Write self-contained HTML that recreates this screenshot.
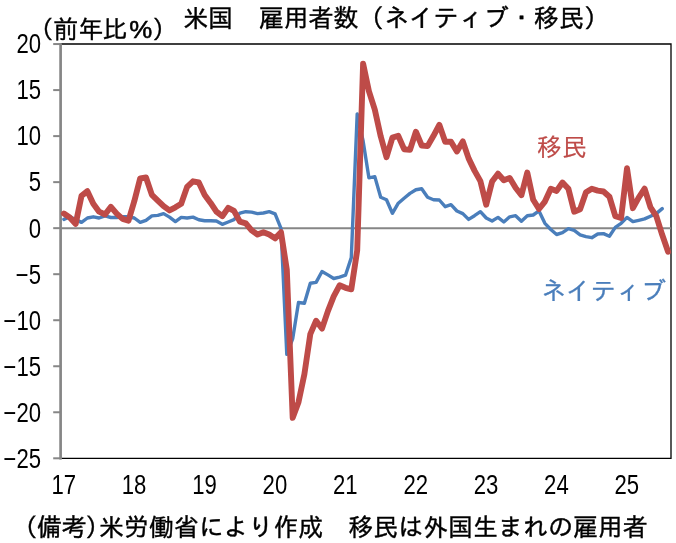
<!DOCTYPE html>
<html lang="ja">
<head>
<meta charset="utf-8">
<title>米国 雇用者数（ネイティブ・移民）</title>
<style>
html,body{margin:0;padding:0;background:#fff;}
body{width:676px;height:543px;overflow:hidden;font-family:"Liberation Sans", "IPAGothic", sans-serif;}
svg{display:block;}
text{font-family:"Liberation Sans", "IPAGothic", sans-serif;font-size:24.6px;fill:#000;stroke:#000;stroke-width:0.4px;}
.num{font-family:"Liberation Sans", sans-serif;font-size:27px;stroke:none;}
</style>
</head>
<body>
<svg width="676" height="543" viewBox="0 0 676 543">
<rect x="0" y="0" width="676" height="543" fill="#fff"/>
<!-- plot border -->
<g fill="none" stroke="#000" stroke-width="1.3">
<polyline points="61,44 671,44 671,458.3 61,458.3"/>
</g>
<g stroke="#868686" stroke-width="2.7" fill="none">
<line x1="60.6" x2="60.6" y1="43.3" y2="459.4"/>
</g>
<g stroke="#868686" stroke-width="2" fill="none">
<line x1="53.2" x2="61" y1="44.05" y2="44.05"/><line x1="53.2" x2="61" y1="90.08" y2="90.08"/><line x1="53.2" x2="61" y1="136.11" y2="136.11"/><line x1="53.2" x2="61" y1="182.13" y2="182.13"/><line x1="53.2" x2="61" y1="228.16" y2="228.16"/><line x1="53.2" x2="61" y1="274.19" y2="274.19"/><line x1="53.2" x2="61" y1="320.22" y2="320.22"/><line x1="53.2" x2="61" y1="366.25" y2="366.25"/><line x1="53.2" x2="61" y1="412.27" y2="412.27"/><line x1="53.2" x2="61" y1="458.30" y2="458.30"/>
</g>
<line x1="61" x2="671" y1="228.3" y2="228.3" stroke="#868686" stroke-width="1.9"/>
<polyline fill="none" stroke="#4A7EBB" stroke-width="3.4" stroke-linejoin="round" stroke-linecap="round" points="63.9,219.4 69.8,216.8 75.7,219.6 81.5,222.4 87.4,218.0 93.3,216.8 99.1,218.0 105.0,215.9 110.9,217.5 116.7,217.5 122.6,216.8 128.5,216.8 134.3,218.0 140.2,222.4 146.0,220.3 151.9,215.9 157.8,215.4 163.6,213.6 169.5,217.1 175.4,221.6 181.2,217.4 187.1,218.0 193.0,217.1 198.8,219.7 204.7,220.7 210.6,220.7 216.4,221.0 222.3,224.3 228.2,222.0 234.0,219.7 239.9,213.2 245.8,211.7 251.6,212.1 257.5,213.6 263.4,213.0 269.2,211.7 275.1,213.9 281.0,228.3 286.8,354.3 292.7,338.7 298.5,302.5 304.4,303.3 310.3,283.3 316.1,282.4 322.0,271.5 327.9,274.9 333.7,278.5 339.6,277.1 345.5,275.2 351.3,257.6 357.2,113.9 363.1,140.9 368.9,177.8 374.8,176.6 380.7,197.3 386.5,199.7 392.4,213.3 398.3,203.2 404.1,198.2 410.0,193.4 415.9,189.7 421.7,188.8 427.6,197.3 433.5,199.7 439.3,200.0 445.2,206.7 451.0,204.7 456.9,211.0 462.8,213.6 468.6,219.4 474.5,215.7 480.4,211.7 486.2,218.0 492.1,221.0 498.0,217.4 503.8,222.0 509.7,216.8 515.6,215.7 521.4,221.2 527.3,215.7 533.2,215.0 539.0,210.9 544.9,223.3 550.8,229.5 556.6,234.5 562.5,232.7 568.4,228.7 574.2,230.4 580.1,234.8 586.0,236.6 591.8,237.7 597.7,234.0 603.5,233.6 609.4,236.3 615.3,227.4 621.1,223.3 627.0,217.4 632.9,221.6 638.7,220.3 644.6,218.9 650.5,216.2 656.3,213.6 662.2,208.6"/>
<polyline fill="none" stroke="#BE4B48" stroke-width="5.9" stroke-linejoin="round" stroke-linecap="round" points="63.9,213.6 69.8,217.4 75.7,223.9 81.5,195.8 87.4,191.2 93.3,203.8 99.1,211.7 105.0,214.5 110.9,206.8 116.7,213.6 122.6,218.9 128.5,220.7 134.3,201.2 140.2,178.3 146.0,177.5 151.9,194.9 157.8,200.7 163.6,206.2 169.5,210.4 175.4,207.3 181.2,203.8 187.1,186.9 193.0,181.3 198.8,182.5 204.7,194.9 210.6,202.9 216.4,211.7 222.3,216.2 228.2,207.9 234.0,210.9 239.9,221.6 245.8,223.3 251.6,230.4 257.5,234.5 263.4,232.2 269.2,234.5 275.1,238.4 281.0,232.2 286.8,269.7 292.7,417.8 298.5,402.2 304.4,374.1 310.3,334.1 316.1,320.7 322.0,328.6 327.9,311.1 333.7,296.4 339.6,285.3 345.5,287.8 351.3,289.3 357.2,250.4 363.1,63.6 368.9,91.2 374.8,109.6 380.7,136.3 386.5,157.2 392.4,137.6 398.3,135.8 404.1,149.2 410.0,149.9 415.9,131.7 421.7,145.5 427.6,146.1 433.5,135.8 439.3,124.8 445.2,141.7 451.0,141.7 456.9,151.5 462.8,141.4 468.6,158.4 474.5,170.6 480.4,181.1 486.2,204.7 492.1,181.6 498.0,173.7 503.8,180.2 509.7,177.9 515.6,187.8 521.4,195.2 527.3,172.5 533.2,199.8 539.0,209.0 544.9,201.6 550.8,188.7 556.6,190.9 562.5,182.5 568.4,188.7 574.2,211.7 580.1,209.2 586.0,192.2 591.8,188.7 597.7,190.6 603.5,191.5 609.4,196.7 615.3,216.2 621.1,218.0 627.0,168.3 632.9,208.2 638.7,197.6 644.6,188.7 650.5,207.3 656.3,216.2 662.2,234.8 668.1,251.8"/>
<text class="num" transform="translate(41,53.3) scale(0.82,1)" text-anchor="end">20</text>
<text class="num" transform="translate(41,99.4) scale(0.82,1)" text-anchor="end">15</text>
<text class="num" transform="translate(41,145.4) scale(0.82,1)" text-anchor="end">10</text>
<text class="num" transform="translate(41,191.4) scale(0.82,1)" text-anchor="end">5</text>
<text class="num" transform="translate(41,237.5) scale(0.82,1)" text-anchor="end">0</text>
<text class="num" transform="translate(41,283.5) scale(0.82,1)" text-anchor="end">−5</text>
<text class="num" transform="translate(41,329.5) scale(0.82,1)" text-anchor="end">−10</text>
<text class="num" transform="translate(41,375.5) scale(0.82,1)" text-anchor="end">−15</text>
<text class="num" transform="translate(41,421.6) scale(0.82,1)" text-anchor="end">−20</text>
<text class="num" transform="translate(41,467.6) scale(0.82,1)" text-anchor="end">−25</text>

<text class="num" transform="translate(63.7,494) scale(0.82,1)" text-anchor="middle">17</text>
<text class="num" transform="translate(134.1,494) scale(0.82,1)" text-anchor="middle">18</text>
<text class="num" transform="translate(204.5,494) scale(0.82,1)" text-anchor="middle">19</text>
<text class="num" transform="translate(274.9,494) scale(0.82,1)" text-anchor="middle">20</text>
<text class="num" transform="translate(345.3,494) scale(0.82,1)" text-anchor="middle">21</text>
<text class="num" transform="translate(415.7,494) scale(0.82,1)" text-anchor="middle">22</text>
<text class="num" transform="translate(486.0,494) scale(0.82,1)" text-anchor="middle">23</text>
<text class="num" transform="translate(556.4,494) scale(0.82,1)" text-anchor="middle">24</text>
<text class="num" transform="translate(626.8,494) scale(0.82,1)" text-anchor="middle">25</text>

<text x="28.8" y="37.6" style="font-size:24.7px">（前年比</text>
<text transform="translate(129.3,37.9) scale(1.06,1)" style="font-family:'Liberation Sans',sans-serif;font-size:24.4px;stroke:#000;stroke-width:0.55px">%</text>
<text x="152.3" y="37.6" style="font-size:24.7px">）</text>
<text x="183.3" y="26.6" style="font-size:25.05px">米国　雇用者数（ネイティブ・移民）</text>
<text x="537.1" y="156.4" style="fill:#BE4B48;stroke:#BE4B48;stroke-width:0.2px;font-size:24.85px">移民</text>
<text x="540.8" y="299.7" style="fill:#4A7EBB;stroke:#4A7EBB;stroke-width:0.3px;font-size:25.05px">ネイティブ</text>
<text x="12.6" y="536" style="font-size:24.94px">（<tspan dx="-0.7">備考</tspan><tspan dx="-1.5">）</tspan><tspan dx="-11.1">米労働省により作成　移民は外国生まれの雇用者</tspan></text>
</svg>
</body>
</html>
